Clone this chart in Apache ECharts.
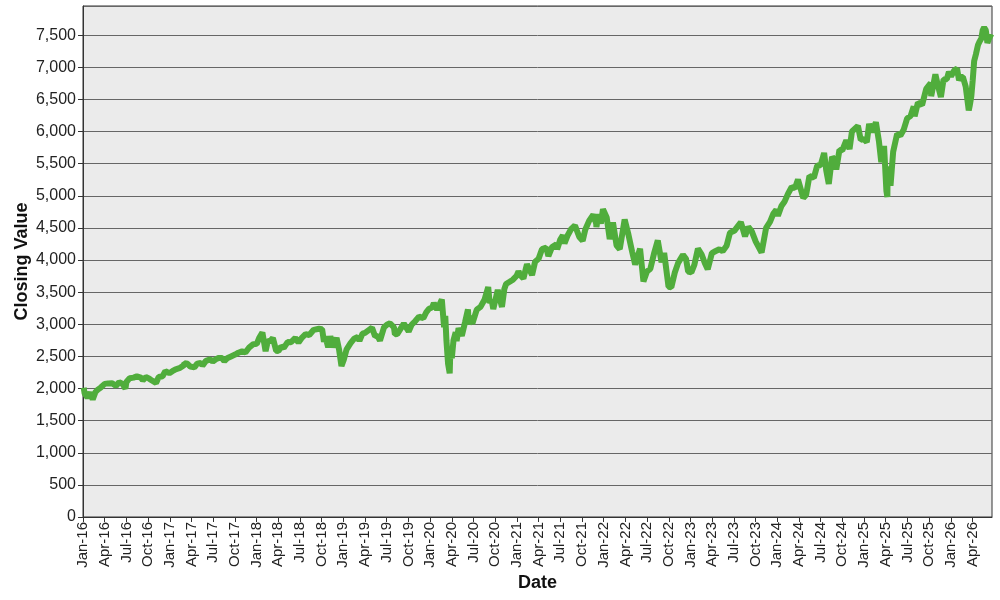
<!DOCTYPE html>
<html>
<head>
<meta charset="utf-8">
<script src="https://cdn.jsdelivr.net/npm/echarts@6/dist/echarts.min.js"></script>
<style>html,body{margin:0;padding:0;background:#fff;}#c{width:1000px;height:600px;}</style>
</head>
<body>
<div id="c"></div>
<script>
const monthNames = ['Jan','Feb','Mar','Apr','May','Jun','Jul','Aug','Sep','Oct','Nov','Dec'];
const yTicks = [0,500,1000,1500,2000,2500,3000,3500,4000,4500,5000,5500,6000,6500,7000,7500];

const d2016 = ['2016-01-04','2016-01-08','2016-01-20','2016-02-01','2016-02-11','2016-02-22','2016-03-01','2016-03-15','2016-04-01','2016-04-15','2016-05-02','2016-05-19','2016-06-01','2016-06-15','2016-06-27','2016-07-01','2016-07-15','2016-08-01','2016-08-15','2016-09-01','2016-09-09','2016-09-22','2016-10-03','2016-10-14','2016-11-04','2016-11-15','2016-12-01','2016-12-13','2016-12-30'];
const v2016 = [2012,1922,1859,1939,1829,1945,1978,2015,2072,2080,2081,2040,2099,2071,2000,2102,2161,2170,2190,2170,2128,2177,2161,2133,2085,2180,2191,2271,2239];

const d2017 = ['2017-01-12','2017-01-26','2017-02-10','2017-02-28','2017-03-01','2017-03-15','2017-03-27','2017-04-13','2017-04-25','2017-05-10','2017-05-17','2017-06-01','2017-06-19','2017-06-29','2017-07-14','2017-07-26','2017-08-08','2017-08-18','2017-09-01','2017-09-15','2017-10-02','2017-10-16','2017-11-01','2017-11-15','2017-12-01','2017-12-18'];
const v2017 = [2270,2299,2316,2364,2396,2385,2342,2329,2388,2400,2357,2430,2453,2419,2459,2477,2474,2426,2476,2500,2529,2557,2579,2564,2642,2690];

const d2018 = ['2018-01-02','2018-01-12','2018-01-26','2018-02-08','2018-02-16','2018-02-27','2018-03-09','2018-03-23','2018-04-02','2018-04-13','2018-04-24','2018-05-10','2018-05-25','2018-06-12','2018-06-25','2018-07-10','2018-07-25','2018-08-10','2018-08-29','2018-09-20','2018-10-03','2018-10-11','2018-10-17','2018-10-29','2018-11-07','2018-11-20','2018-12-03','2018-12-14','2018-12-24'];
const v2018 = [2695,2786,2873,2581,2732,2744,2786,2588,2582,2656,2634,2723,2721,2787,2717,2793,2846,2833,2914,2931,2925,2729,2809,2641,2814,2642,2790,2600,2351];

const d2019 = ['2019-01-03','2019-01-15','2019-02-01','2019-02-15','2019-03-01','2019-03-08','2019-03-21','2019-04-01','2019-04-15','2019-04-30','2019-05-13','2019-05-23','2019-06-03','2019-06-20','2019-07-03','2019-07-15','2019-08-01','2019-08-05','2019-08-15','2019-08-23','2019-09-12','2019-09-19','2019-10-02','2019-10-15','2019-10-28','2019-11-15','2019-12-03','2019-12-16','2019-12-27'];
const v2019 = [2448,2610,2707,2776,2804,2743,2855,2867,2906,2946,2812,2823,2744,2954,2996,3014,2953,2845,2848,2847,3010,3006,2888,2995,3039,3120,3093,3191,3240];

const d2020 = ['2020-01-10','2020-01-17','2020-01-31','2020-02-19','2020-02-28','2020-03-04','2020-03-09','2020-03-16','2020-03-23','2020-03-26','2020-04-01','2020-04-08','2020-04-17','2020-04-21','2020-04-29','2020-05-13','2020-05-27','2020-06-08','2020-06-11','2020-06-23','2020-06-26','2020-07-15','2020-07-31','2020-08-17','2020-09-02','2020-09-08','2020-09-16','2020-09-23','2020-10-12','2020-10-30','2020-11-09','2020-11-16','2020-12-01','2020-12-15','2020-12-31'];
const v2020 = [3265,3330,3226,3386,2954,3130,2747,2386,2237,2630,2471,2750,2875,2737,2940,2820,3036,3232,3002,3131,3009,3227,3271,3382,3580,3332,3385,3237,3535,3270,3550,3627,3662,3695,3756];

const d2021 = ['2021-01-08','2021-01-15','2021-01-29','2021-02-12','2021-03-04','2021-03-17','2021-04-01','2021-04-15','2021-05-03','2021-05-12','2021-05-28','2021-06-15','2021-06-18','2021-07-01','2021-07-12','2021-07-19','2021-08-02','2021-08-16','2021-09-02','2021-09-20','2021-10-04','2021-10-15','2021-11-01','2021-11-18','2021-11-30','2021-12-01','2021-12-10','2021-12-20','2021-12-29'];
const v2021 = [3825,3768,3714,3934,3768,3974,4020,4170,4192,4063,4204,4246,4166,4320,4385,4258,4387,4479,4537,4358,4300,4471,4613,4705,4567,4513,4712,4568,4793];

const d2022 = ['2022-01-03','2022-01-14','2022-01-27','2022-02-09','2022-02-23','2022-03-08','2022-03-29','2022-04-14','2022-04-29','2022-05-12','2022-05-20','2022-06-02','2022-06-16','2022-07-01','2022-07-15','2022-08-01','2022-08-16','2022-09-01','2022-09-12','2022-09-30','2022-10-12','2022-10-27','2022-11-10','2022-11-30','2022-12-13','2022-12-22'];
const v2022 = [4796,4663,4326,4587,4225,4170,4632,4393,4132,3930,3901,4176,3667,3825,3863,4118,4305,3966,4110,3585,3577,3807,3956,4080,4019,3822];

const d2023 = ['2023-01-05','2023-01-18','2023-02-02','2023-02-16','2023-03-01','2023-03-13','2023-03-31','2023-04-14','2023-05-01','2023-05-15','2023-06-01','2023-06-15','2023-07-03','2023-07-31','2023-08-18','2023-09-01','2023-09-15','2023-10-02','2023-10-27','2023-11-15','2023-12-01','2023-12-15','2023-12-28'];
const v2023 = [3808,3928,4179,4090,3951,3855,4109,4137,4168,4136,4221,4425,4455,4589,4370,4515,4450,4288,4117,4502,4595,4719,4783];

const d2024 = ['2024-01-04','2024-01-19','2024-02-01','2024-02-15','2024-03-01','2024-03-15','2024-03-28','2024-04-19','2024-05-01','2024-05-15','2024-06-03','2024-06-17','2024-07-01','2024-07-16','2024-07-25','2024-08-05','2024-08-19','2024-09-03','2024-09-06','2024-09-19','2024-10-01','2024-10-18','2024-11-01','2024-11-11','2024-12-06','2024-12-18','2024-12-31'];
const v2024 = [4688,4840,4906,5030,5137,5117,5254,4967,5018,5308,5283,5473,5475,5667,5399,5186,5608,5528,5408,5713,5709,5864,5728,6001,6090,5872,5882];

const d2025 = ['2025-01-13','2025-01-23','2025-02-03','2025-02-19','2025-03-03','2025-03-13','2025-03-25','2025-04-04','2025-04-08','2025-04-09','2025-04-21','2025-05-02','2025-05-19','2025-06-02','2025-06-16','2025-06-30','2025-07-15','2025-07-28','2025-08-01','2025-08-15','2025-09-02','2025-09-19','2025-10-08','2025-10-10','2025-10-28','2025-11-07','2025-11-20','2025-12-01','2025-12-15','2025-12-24'];
const v2025 = [5836,6118,5994,6144,5850,5522,5776,5074,4982,5457,5158,5686,5963,5936,6033,6205,6244,6390,6238,6450,6415,6664,6753,6552,6890,6728,6538,6812,6816,6932];

const d2026 = ['2026-01-02','2026-01-15','2026-01-28','2026-02-05','2026-02-12','2026-02-20','2026-03-03','2026-03-10','2026-03-16','2026-03-20','2026-03-27','2026-04-02','2026-04-08','2026-04-15','2026-04-24','2026-04-30','2026-05-08','2026-05-14','2026-05-20','2026-05-27','2026-06-03','2026-06-10','2026-06-19'];
const v2026 = [6860,6950,6980,6800,6850,6850,6700,6500,6330,6400,6550,6800,7100,7200,7350,7400,7450,7580,7620,7580,7380,7450,7520];

const allDates = [].concat(d2016,d2017,d2018,d2019,d2020,d2021,d2022,d2023,d2024,d2025,d2026);
const allValues = [].concat(v2016,v2017,v2018,v2019,v2020,v2021,v2022,v2023,v2024,v2025,v2026);

function monthIndex(s){
  const p = s.split('-').map(Number);
  const dim = new Date(p[0], p[1], 0).getDate();
  return (p[0]-2016)*12 + (p[1]-1) + (p[2]-1)/dim;
}
const points = allDates.map((d,i)=>[monthIndex(d), allValues[i]]);
const xMax = monthIndex(allDates[allDates.length-1]) + 0.1;

const chart = echarts.init(document.getElementById('c'), null, {renderer:'canvas'});
const txt = '#222';
const ff = 'Liberation Sans, Arial, sans-serif';
chart.setOption({
  animation:false,
  backgroundColor:'#ffffff',
  grid:{left:83, right:8, top:6, bottom:83, show:true, backgroundColor:'#ebebeb', borderColor:'#333', borderWidth:1},
  xAxis:{
    type:'value', min:0, max:xMax, interval:3,
    name:'Date', nameLocation:'middle', nameGap:57, nameMoveOverlap:false,
    nameTextStyle:{fontFamily:ff, fontSize:18, fontWeight:'bold', color:'#111'},
    axisLine:{show:true, lineStyle:{color:'#333'}},
    axisTick:{show:true, length:5, lineStyle:{color:'#333'}},
    splitLine:{show:false},
    axisLabel:{rotate:90, margin:5, showMaxLabel:false, fontFamily:ff, fontSize:15, color:txt,
      formatter:function(v){ const m=Math.round(v); return monthNames[m%12]+'-'+String(16+Math.floor(m/12)); }}
  },
  yAxis:{
    type:'value', min:0, max:7955, interval:500,
    name:'Closing Value', nameLocation:'middle', nameGap:52, nameMoveOverlap:false,
    nameTextStyle:{fontFamily:ff, fontSize:18, fontWeight:'bold', color:'#111'},
    axisLine:{show:true, lineStyle:{color:'#333'}},
    axisTick:{show:true, length:5, lineStyle:{color:'#333'}},
    splitLine:{show:true, lineStyle:{color:'#666', width:1}},
    axisLabel:{margin:7, showMaxLabel:false, fontFamily:ff, fontSize:16, color:txt,
      formatter:function(v){ return yTicks.indexOf(v)>=0 ? v.toLocaleString('en-US') : ''; }}
  },
  series:[{
    type:'line', data:points, showSymbol:false, symbol:'none',
    lineStyle:{color:'#50ad3c', width:6, join:'bevel'},
    itemStyle:{color:'#50ad3c'}
  }]
});
</script>
</body>
</html>
